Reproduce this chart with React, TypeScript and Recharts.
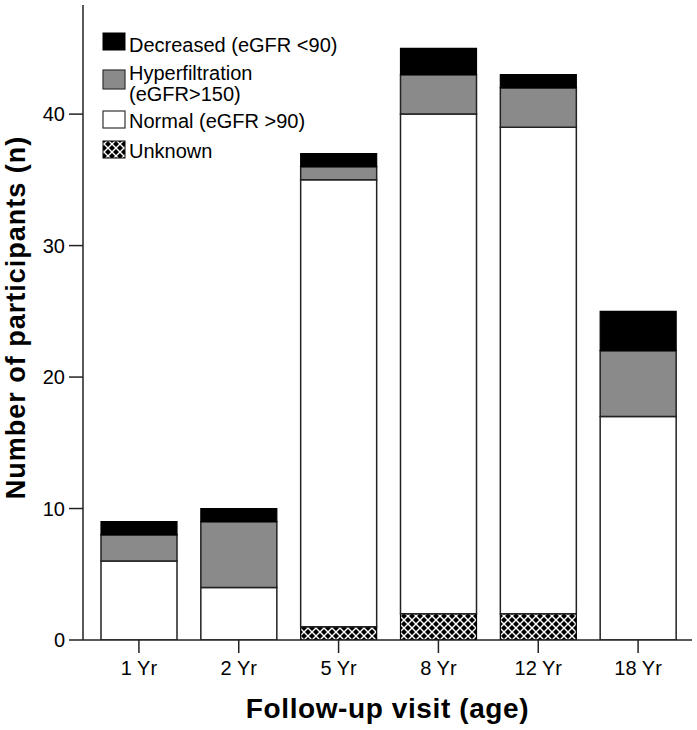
import React from 'react';
import { BarChart, Bar, XAxis, YAxis } from 'recharts';

const categories = ['1 Yr', '2 Yr', '5 Yr', '8 Yr', '12 Yr', '18 Yr'];
const unknownValues = [0, 0, 1, 2, 2, 0];
const normalValues = [6, 4, 34, 38, 37, 17];
const hyperValues = [2, 5, 1, 3, 3, 5];
const decreasedValues = [1, 1, 1, 2, 1, 3];
const yTicks = [0, 10, 20, 30, 40];

const legendLabels = {
  decreased: ['Decreased (eGFR <90)'],
  hyper: ['Hyperfiltration', '(eGFR>150)'],
  normal: ['Normal (eGFR >90)'],
  unknown: ['Unknown'],
};

const FONT = '"Liberation Sans", Arial, Helvetica, sans-serif';
const GRAY = '#8a8a8a';

const data = categories.map((c, i) => ({
  name: c,
  unknown: unknownValues[i],
  normal: normalValues[i],
  hyper: hyperValues[i],
  decreased: decreasedValues[i],
}));

const W = 697;
const H = 730;

function XTitle(props: any) {
  const vb = props.viewBox || {};
  return (
    <text
      x={vb.x + vb.width / 2}
      y={vb.y + 78}
      textAnchor="middle"
      fontFamily={FONT}
      fontWeight="bold"
      fontSize={28}
      letterSpacing={0.6}
      fill="#000"
    >
      Follow-up visit (age)
    </text>
  );
}

function YTitle(props: any) {
  const vb = props.viewBox || {};
  const cx = 25;
  const cy = vb.y + vb.height / 2 - 5;
  return (
    <text
      x={cx}
      y={cy}
      transform={`rotate(-90 ${cx} ${cy})`}
      textAnchor="middle"
      fontFamily={FONT}
      fontWeight="bold"
      fontSize={27}
      letterSpacing={1}
      fill="#000"
    >
      Number of participants (n)
    </text>
  );
}

function HatchDefs({ id }: { id: string }) {
  return (
    <defs>
      <pattern id={id} patternUnits="userSpaceOnUse" width={8} height={8}>
        <rect x={0} y={0} width={8} height={8} fill="#000" />
        <path d="M0,0 L8,8 M8,0 L0,8" stroke="#fff" strokeWidth={1.4} />
      </pattern>
    </defs>
  );
}

function LegendOverlay() {
  const sx = 103;
  const sw = 22;
  const tx = 129;
  const fs = 20;
  return (
    <svg
      width={W}
      height={H}
      style={{ position: 'absolute', left: 0, top: 0, pointerEvents: 'none' }}
    >
      <HatchDefs id="hatchLegend" />
      <rect x={sx} y={33} width={sw} height={17} fill="#000" stroke="#000" strokeWidth={1} />
      <text x={tx} y={52} fontFamily={FONT} fontSize={fs} fill="#000">{legendLabels.decreased[0]}</text>

      <rect x={sx} y={70} width={sw} height={19} fill={GRAY} stroke="#333" strokeWidth={1.2} />
      <text x={tx} y={80} fontFamily={FONT} fontSize={fs} fill="#000">{legendLabels.hyper[0]}</text>
      <text x={tx} y={101} fontFamily={FONT} fontSize={fs} fill="#000">{legendLabels.hyper[1]}</text>

      <rect x={sx} y={111} width={sw} height={17} fill="#fff" stroke="#333" strokeWidth={1.2} />
      <text x={tx} y={128} fontFamily={FONT} fontSize={fs} fill="#000">{legendLabels.normal[0]}</text>

      <rect x={sx} y={141} width={sw} height={17} fill="url(#hatchLegend)" stroke="#000" strokeWidth={1} />
      <text x={tx} y={158} fontFamily={FONT} fontSize={fs} fill="#000">{legendLabels.unknown[0]}</text>
    </svg>
  );
}

export default function App() {
  return (
    <div style={{ position: 'absolute', left: 0, top: 0, width: W, height: H, background: '#fff' }}>
      <BarChart
        width={W}
        height={H}
        data={data}
        margin={{ top: 5, right: 5, bottom: 0, left: 0 }}
        barSize={76}
      >
        <HatchDefs id="hatchBar" />
        <XAxis
          dataKey="name"
          xAxisId="main"
          height={90}
          padding={{ left: 6, right: 4 }}
          tickSize={13}
          tickMargin={8}
          tick={{ fontFamily: FONT, fontSize: 20, fill: '#000' }}
          tickLine={{ stroke: '#222', strokeWidth: 1.5 }}
          axisLine={{ stroke: '#222', strokeWidth: 1.5 }}
          interval={0}
          label={<XTitle />}
        />
        <XAxis
          dataKey="name"
          xAxisId="top"
          orientation="top"
          height={0}
          tick={false}
          tickLine={false}
          axisLine={{ stroke: '#666', strokeWidth: 2 }}
          padding={{ left: 6, right: 4 }}
        />
        <YAxis
          yAxisId="main"
          width={83}
          domain={[0, 48.3]}
          ticks={yTicks}
          allowDataOverflow
          tickSize={14}
          tickMargin={4}
          tick={{ fontFamily: FONT, fontSize: 20, fill: '#000' }}
          tickLine={{ stroke: '#222', strokeWidth: 1.5 }}
          axisLine={{ stroke: '#222', strokeWidth: 1.5 }}
          label={<YTitle />}
        />
        <YAxis
          yAxisId="right"
          orientation="right"
          width={0}
          domain={[0, 48.3]}
          tick={false}
          tickLine={false}
          axisLine={{ stroke: '#666', strokeWidth: 2 }}
        />
        <Bar dataKey="unknown" stackId="s" xAxisId="main" yAxisId="main" fill="url(#hatchBar)" stroke="#000" strokeWidth={1.2} isAnimationActive={false} />
        <Bar dataKey="normal" stackId="s" xAxisId="main" yAxisId="main" fill="#fff" stroke="#222" strokeWidth={1.5} isAnimationActive={false} />
        <Bar dataKey="hyper" stackId="s" xAxisId="main" yAxisId="main" fill={GRAY} stroke="#222" strokeWidth={1.5} isAnimationActive={false} />
        <Bar dataKey="decreased" stackId="s" xAxisId="main" yAxisId="main" fill="#000" stroke="#000" strokeWidth={1.2} isAnimationActive={false} />
      </BarChart>
      <LegendOverlay />
    </div>
  );
}
